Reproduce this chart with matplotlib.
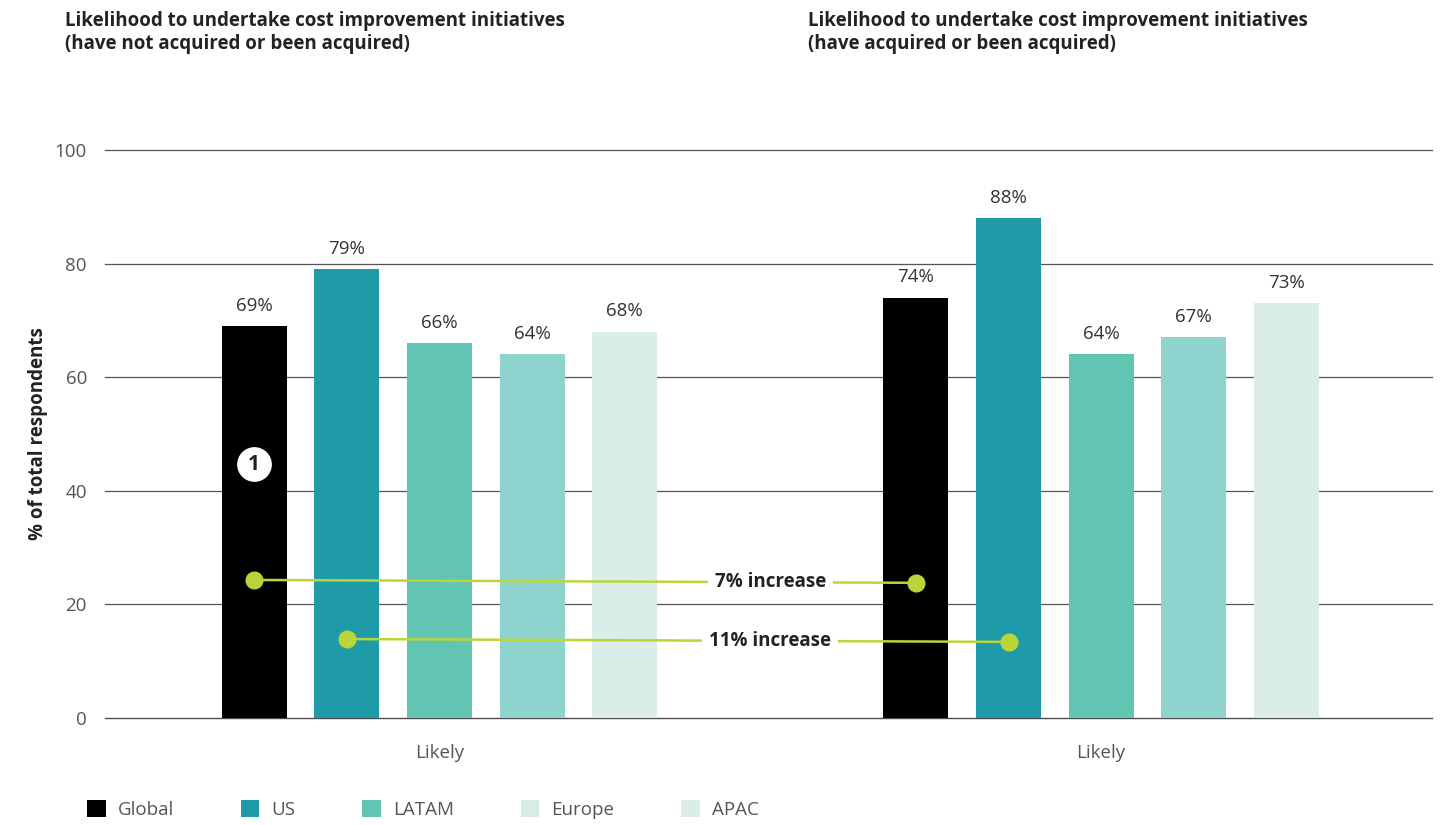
import matplotlib.pyplot as plt
from matplotlib.patches import Patch

plt.rcParams["font.family"] = ["Open Sans", "DejaVu Sans"]

# Survey data
regions = ["Global", "US", "LATAM", "Europe", "APAC"]
not_acquired = [69, 79, 66, 64, 68]
acquired = [74, 88, 64, 67, 73]
group_labels = ["Likely", "Likely"]
titles = [
    "Likelihood to undertake cost improvement initiatives\n(have not acquired or been acquired)",
    "Likelihood to undertake cost improvement initiatives\n(have acquired or been acquired)",
]
bar_colors = ["#000000", "#1e9aa9", "#62c5b3", "#8fd3cf", "#daede8"]
legend_colors = ["#000000", "#1e9aa9", "#62c5b3", "#d8ece6", "#daede8"]

# Connector annotations: (region index, y in group 1, y in group 2, label)
increases = [
    (0, 24.3, 23.8, "7% increase"),
    (1, 13.9, 13.4, "11% increase"),
]
marker_y = 44.7

GROUP_GAP = 7.14
BAR_W = 0.70
GREEN = "#b9d53a"
FS = 13.5

fig = plt.figure(figsize=(14.42, 8.25), dpi=100)
ax = fig.add_axes([105 / 1442, 107 / 825, 1327 / 1442, 568 / 825])

centers = [0, GROUP_GAP]
for gi, vals in enumerate([not_acquired, acquired]):
    for i, v in enumerate(vals):
        x = centers[gi] + i - 2
        ax.bar(x, v, width=BAR_W, color=bar_colors[i], zorder=2)
        ax.text(x, v + 2.0, f"{v}%", ha="center", va="bottom", fontsize=FS,
                color="#333333", zorder=4,
                bbox=dict(facecolor="white", edgecolor="none", pad=1.0))

for y in range(0, 101, 20):
    ax.axhline(y, color="#4d4d4d" if y == 0 else "#555555", lw=1.0 if y == 0 else 0.9,
               zorder=1, clip_on=False)

ax.set_xlim(-3.61, 10.71)
ax.set_ylim(0, 100)
ax.set_yticks(range(0, 101, 20))
ax.set_xticks(centers)
ax.set_xticklabels(group_labels)
ax.tick_params(axis="y", length=0, pad=13, labelsize=FS, labelcolor="#555555")
ax.tick_params(axis="x", length=0, pad=19, labelsize=FS, labelcolor="#555555")
for s in ax.spines.values():
    s.set_visible(False)
ax.set_ylabel("% of total respondents", fontsize=FS, fontweight="bold",
              color="#222222", labelpad=5)

# Increase connectors between the two groups
for idx, y1, y2, label in increases:
    x1 = centers[0] + idx - 2
    x2 = centers[1] + idx - 2
    ax.plot([x1, x2], [y1, y2], color=GREEN, lw=1.8, zorder=3)
    ax.plot([x1, x2], [y1, y2], "o", color=GREEN, ms=12, zorder=5)
    xm = 3.57
    ym = y1 + (y2 - y1) * (xm - x1) / (x2 - x1)
    ax.text(xm, ym, label, ha="center", va="center", fontsize=FS,
            fontweight="bold", color="#222222", zorder=4,
            bbox=dict(facecolor="white", edgecolor="none", pad=5))

# Numbered marker on the first bar
ax.plot(centers[0] - 2, marker_y, "o", color="white", ms=24, zorder=5)
ax.text(centers[0] - 2, marker_y, "1", ha="center", va="center", fontsize=15,
        fontweight="bold", color="#222222", zorder=6)

# Panel titles
fig.text(65 / 1442, 1 - 11 / 825, titles[0], ha="left", va="top", fontsize=FS,
         fontweight="bold", color="#222222", linespacing=1.2)
fig.text(808 / 1442, 1 - 11 / 825, titles[1], ha="left", va="top", fontsize=FS,
         fontweight="bold", color="#222222", linespacing=1.2)

# Legend
handles = [Patch(facecolor=c, edgecolor="none") for c in legend_colors]
fig.legend(handles, regions, loc="lower left", bbox_to_anchor=(70 / 1442, -11 / 825),
           ncol=5, frameon=False, fontsize=FS, labelcolor="#555555",
           handlelength=1.0, handleheight=1.0, handletextpad=0.65, columnspacing=3.55)

fig.savefig("out.png", dpi=100)
